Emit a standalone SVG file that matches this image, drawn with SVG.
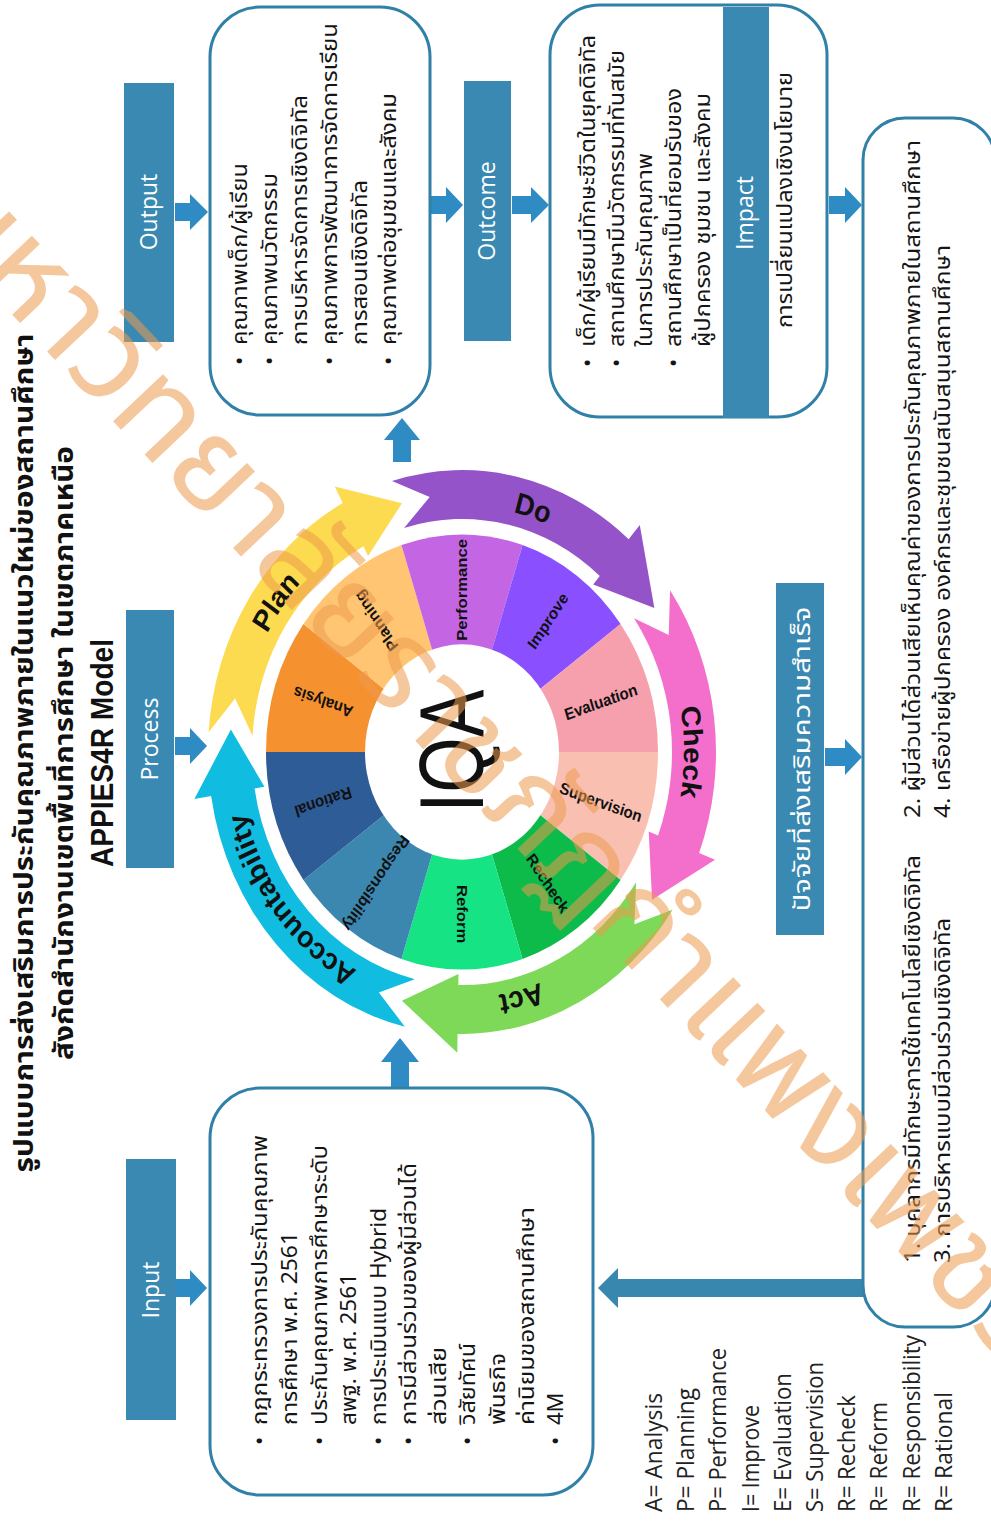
<svg xmlns="http://www.w3.org/2000/svg" width="991" height="1525" viewBox="0 0 991 1525">
<style>
.lbl{fill:#3A89B2}
.arr{fill:#2E8BC3}
.box{fill:#fff;stroke:#3080A8;stroke-width:3}
.th{font-family:"Noto Sans Thai","Noto Sans","Liberation Sans",sans-serif;font-size:22px;fill:#151515}
.tt{font-family:"Noto Sans Thai","Noto Sans","Liberation Sans",sans-serif;font-size:26px;font-weight:bold;fill:#111}
.wl{font-family:"Open Sans","Noto Sans Thai",sans-serif;font-size:23px;fill:#fff;text-anchor:middle}
.lg{font-family:"Open Sans","Liberation Sans",sans-serif;font-size:23px;fill:#222}
.seg{font-family:"Liberation Sans",Arial,sans-serif;font-weight:bold;font-size:15px;fill:#111;text-anchor:middle;dominant-baseline:central}
.big{font-family:"Liberation Sans",Arial,sans-serif;font-weight:bold;font-size:27px;fill:#111}
</style>
<defs>
<path id="pPlan" d="M -215.41 53.71 A 222 222 0 0 1 -15.49 -221.46"/>
<path id="pDo" d="M -117.64 -188.27 A 222 222 0 0 1 205.83 -83.16"/>
<path id="pCheck" d="M 142.70 -170.06 A 222 222 0 0 1 142.70 170.06"/>
<path id="pAct" d="M 201.20 93.82 A 222 222 0 0 1 -127.33 181.85"/>
<path id="pAcc" d="M -7.78 222.86 A 223 223 0 0 1 -218.13 -46.36"/>
</defs>
<rect width="991" height="1525" fill="#fff"/>

<g id="title" transform="matrix(0 -1 1 0 0 1525)">
<text class="tt" x="772" y="33" text-anchor="middle" textLength="839" lengthAdjust="spacingAndGlyphs">รูปแบบการส่งเสริมการประกันคุณภาพภายในแนวใหม่ของสถานศึกษา</text>
<text class="tt" x="772" y="73" text-anchor="middle" textLength="614" lengthAdjust="spacingAndGlyphs">สังกัดสำนักงานเขตพื้นที่การศึกษา ในเขตภาคเหนือ</text>
<text x="772" y="113" text-anchor="middle" font-family="Liberation Sans,Arial,sans-serif" font-weight="bold" font-size="31" fill="#111" textLength="228" lengthAdjust="spacingAndGlyphs">APPIES4R Model</text>
</g>

<g id="connectors">
<polygon class="arr" points="175,1279 190,1279 190,1270 207,1288 190,1306 190,1297 175,1297"/>
<polygon class="arr" points="175,737 190,737 190,728 207,746 190,764 190,755 175,755"/>
<polygon class="arr" points="175,203 190,203 190,194 208,212 190,230 190,221 175,221"/>
<polygon class="arr" points="431,196 446,196 446,187 463,205 446,223 446,214 431,214"/>
<polygon class="arr" points="512,196 531,196 531,187 549,205 531,223 531,214 512,214"/>
<polygon class="arr" points="829,196 845,196 845,187 862,205 845,223 845,214 829,214"/>
<polygon class="arr" points="825,748 845,748 845,739 862,757 845,775 845,766 825,766"/>
<polygon class="arr" points="393,462 393,440 384,440 402,418 420,440 411,440 411,462"/>
<polygon class="arr" points="391,1088 391,1062 381,1062 400,1038 419,1062 409,1062 409,1088"/>
<polygon fill="#3787AE" points="864,1279 618,1279 618,1268 598,1288 618,1308 618,1297 864,1297"/>
</g>

<g id="input-label">
<rect class="lbl" x="126" y="1159" width="50" height="261"/>
<text class="wl" transform="matrix(0 -1 1 0 0 1525)" x="235" y="159">Input</text>
</g>
<g id="process-label">
<rect class="lbl" x="126" y="610" width="48" height="258"/>
<text class="wl" transform="matrix(0 -1 1 0 0 1525)" x="786" y="158">Process</text>
</g>
<g id="output-label">
<rect class="lbl" x="124" y="83" width="50" height="259"/>
<text class="wl" transform="matrix(0 -1 1 0 0 1525)" x="1313" y="157">Output</text>
</g>
<g id="outcome-label">
<rect class="lbl" x="464" y="81" width="47" height="260"/>
<text class="wl" transform="matrix(0 -1 1 0 0 1525)" x="1314" y="495">Outcome</text>
</g>
<g id="factor-label">
<rect class="lbl" x="776" y="583" width="48" height="352"/>
<text class="wl" transform="matrix(0 -1 1 0 0 1525)" x="766" y="810" font-size="24" textLength="305" lengthAdjust="spacingAndGlyphs">ปัจจัยที่ส่งเสริมความสำเร็จ</text>
</g>

<g id="input-box">
<rect class="box" x="210" y="1088" width="383" height="407" rx="50"/>
<g class="th" transform="matrix(0 -1 1 0 0 1525)">
<text x="80" y="267">•</text><text x="100" y="267" textLength="290" lengthAdjust="spacingAndGlyphs">กฎกระทรวงการประกันคุณภาพ</text>
<text x="100" y="297" textLength="193" lengthAdjust="spacingAndGlyphs">การศึกษา พ.ศ. 2561</text>
<text x="80" y="327">•</text><text x="100" y="327" textLength="280" lengthAdjust="spacingAndGlyphs">ประกันคุณภาพการศึกษาระดับ</text>
<text x="100" y="356" textLength="152" lengthAdjust="spacingAndGlyphs">สพฐ. พ.ศ. 2561</text>
<text x="80" y="386">•</text><text x="100" y="386" textLength="217" lengthAdjust="spacingAndGlyphs">การประเมินแบบ Hybrid</text>
<text x="80" y="416">•</text><text x="100" y="416" textLength="262" lengthAdjust="spacingAndGlyphs">การมีส่วนร่วมของผู้มีส่วนได้</text>
<text x="100" y="446" textLength="78" lengthAdjust="spacingAndGlyphs">ส่วนเสีย</text>
<text x="80" y="475">•</text><text x="100" y="475" textLength="82" lengthAdjust="spacingAndGlyphs">วิสัยทัศน์</text>
<text x="100" y="505" textLength="72" lengthAdjust="spacingAndGlyphs">พันธกิจ</text>
<text x="100" y="534" textLength="218" lengthAdjust="spacingAndGlyphs">ค่านิยมของสถานศึกษา</text>
<text x="80" y="563">•</text><text x="100" y="563">4M</text>
</g>
</g>

<g id="output-box">
<rect class="box" x="210" y="7" width="220" height="408" rx="50"/>
<g class="th" transform="matrix(0 -1 1 0 0 1525)">
<text x="1160" y="247">•</text><text x="1180" y="247" textLength="182" lengthAdjust="spacingAndGlyphs">คุณภาพเด็ก/ผู้เรียน</text>
<text x="1160" y="277">•</text><text x="1180" y="277" textLength="172" lengthAdjust="spacingAndGlyphs">คุณภาพนวัตกรรม</text>
<text x="1180" y="307" textLength="250" lengthAdjust="spacingAndGlyphs">การบริหารจัดการเชิงดิจิทัล</text>
<text x="1160" y="337">•</text><text x="1180" y="337" textLength="322" lengthAdjust="spacingAndGlyphs">คุณภาพการพัฒนาการจัดการเรียน</text>
<text x="1180" y="367" textLength="165" lengthAdjust="spacingAndGlyphs">การสอนเชิงดิจิทัล</text>
<text x="1160" y="396">•</text><text x="1180" y="396" textLength="252" lengthAdjust="spacingAndGlyphs">คุณภาพต่อชุมชนและสังคม</text>
</g>
</g>

<g id="outcome-box">
<rect class="box" x="550" y="5" width="277" height="412" rx="50"/>
<rect class="lbl" x="723" y="7" width="46" height="411"/>
<text class="wl" transform="matrix(0 -1 1 0 0 1525)" x="1312" y="753">Impact</text>
<g class="th" transform="matrix(0 -1 1 0 0 1525)">
<text x="1158" y="595">•</text><text x="1178" y="595" textLength="312" lengthAdjust="spacingAndGlyphs">เด็ก/ผู้เรียนมีทักษะชีวิตในยุคดิจิทัล</text>
<text x="1158" y="624">•</text><text x="1178" y="624" textLength="297" lengthAdjust="spacingAndGlyphs">สถานศึกษามีนวัตกรรมที่ทันสมัย</text>
<text x="1178" y="652" textLength="194" lengthAdjust="spacingAndGlyphs">ในการประกันคุณภาพ</text>
<text x="1158" y="681">•</text><text x="1178" y="681" textLength="259" lengthAdjust="spacingAndGlyphs">สถานศึกษาเป็นที่ยอมรับของ</text>
<text x="1178" y="710" textLength="254" lengthAdjust="spacingAndGlyphs">ผู้ปกครอง ชุมชน และสังคม</text>
<text x="1197" y="792" textLength="256" lengthAdjust="spacingAndGlyphs">การเปลี่ยนแปลงเชิงนโยบาย</text>
</g>
</g>

<g id="factor-box">
<rect class="box" x="863" y="118" width="132" height="1209" rx="42"/>
<g class="th" font-size="21" transform="matrix(0 -1 1 0 0 1525)">
<text x="262" y="920" textLength="408" lengthAdjust="spacingAndGlyphs">1. บุคลากรมีทักษะการใช้เทคโนโลยีเชิงดิจิทัล</text>
<text x="262" y="950" textLength="345" lengthAdjust="spacingAndGlyphs">3. การบริหารแบบมีส่วนร่วมเชิงดิจิทัล</text>
<text x="707" y="920" textLength="678" lengthAdjust="spacingAndGlyphs">2. ผู้มีส่วนได้ส่วนเสียเห็นคุณค่าของการประกันคุณภาพภายในสถานศึกษา</text>
<text x="707" y="950" textLength="573" lengthAdjust="spacingAndGlyphs">4. เครือข่ายผู้ปกครอง องค์กรและชุมชนสนับสนุนสถานศึกษา</text>
</g>
</g>

<g id="legend" class="lg" transform="matrix(0 -1 1 0 0 1525)">
<text x="13" y="662" textLength="119" lengthAdjust="spacingAndGlyphs">A= Analysis</text>
<text x="13" y="694" textLength="124" lengthAdjust="spacingAndGlyphs">P= Planning</text>
<text x="13" y="726" textLength="164" lengthAdjust="spacingAndGlyphs">P= Performance</text>
<text x="13" y="759" textLength="107" lengthAdjust="spacingAndGlyphs">I= Improve</text>
<text x="13" y="791" textLength="139" lengthAdjust="spacingAndGlyphs">E= Evaluation</text>
<text x="13" y="823" textLength="150" lengthAdjust="spacingAndGlyphs">S= Supervision</text>
<text x="13" y="855" textLength="117" lengthAdjust="spacingAndGlyphs">R= Recheck</text>
<text x="13" y="887" textLength="110" lengthAdjust="spacingAndGlyphs">R= Reform</text>
<text x="13" y="920" textLength="177" lengthAdjust="spacingAndGlyphs">R= Responsibility</text>
<text x="13" y="952" textLength="120" lengthAdjust="spacingAndGlyphs">R= Rational</text>
</g>

<g id="cycle" transform="translate(462,752) scale(1,1.11)">
<g id="ring">
<path fill="#F9C0B1" d="M0 0 L196 0 A196 196 0 0 1 158.57 115.21 Z"/>
<path fill="#0DBB4B" d="M0 0 L158.57 115.21 A196 196 0 0 1 60.57 186.41 Z"/>
<path fill="#15E384" d="M0 0 L60.57 186.41 A196 196 0 0 1 -60.57 186.41 Z"/>
<path fill="#3C87AF" d="M0 0 L-60.57 186.41 A196 196 0 0 1 -158.57 115.21 Z"/>
<path fill="#2E5C97" d="M0 0 L-158.57 115.21 A196 196 0 0 1 -196 0 Z"/>
<path fill="#F5912F" d="M0 0 L-196 0 A196 196 0 0 1 -158.57 -115.21 Z"/>
<path fill="#FFC572" d="M0 0 L-158.57 -115.21 A196 196 0 0 1 -60.57 -186.41 Z"/>
<path fill="#C466E4" d="M0 0 L-60.57 -186.41 A196 196 0 0 1 60.57 -186.41 Z"/>
<path fill="#8A50FF" d="M0 0 L60.57 -186.41 A196 196 0 0 1 158.57 -115.21 Z"/>
<path fill="#F6A0AE" d="M0 0 L158.57 -115.21 A196 196 0 0 1 196 0 Z"/>
<circle r="97" fill="#fff"/>
</g>
<g id="ring-labels">
<text class="seg" transform="translate(138.85,45.12) rotate(18)">Supervision</text>
<text class="seg" transform="translate(85.82,118.12) rotate(54)">Recheck</text>
<text class="seg" transform="translate(0,146) rotate(90)">Reform</text>
<text class="seg" font-size="12.5" transform="translate(-85.82,118.12) rotate(126)">Responsibility</text>
<text class="seg" transform="translate(-138.85,45.12) rotate(162)">Rational</text>
<text class="seg" transform="translate(-138.85,-45.12) rotate(198)">Analysis</text>
<text class="seg" transform="translate(-85.82,-118.12) rotate(234)">Planning</text>
<text class="seg" font-size="14" transform="translate(0,-146) rotate(270)">Performance</text>
<text class="seg" transform="translate(85.82,-118.12) rotate(306)">Improve</text>
<text class="seg" transform="translate(138.85,-45.12) rotate(342)">Evaluation</text>
</g>
<g id="plan">
<path fill="#FDDB50" d="M -253.38 -17.72 A 254 254 0 0 1 -119.25 -224.27 L -127.23 -239.28 L -60.05 -224.10 L -93.89 -176.59 L -98.59 -185.42 A 210 210 0 0 0 -209.49 -14.65 L -226.93 -48.24 Z"/>
<text class="big"><textPath href="#pPlan" startOffset="50%" text-anchor="middle">Plan</textPath></text>
</g>
<g id="do">
<path fill="#9553C9" d="M -70.01 -244.16 A 254 254 0 0 1 166.64 -191.70 L 177.79 -204.53 L 192.34 -129.73 L 131.21 -150.94 L 137.77 -158.49 A 210 210 0 0 0 -57.88 -201.86 L -32.29 -229.74 Z"/>
<text class="big"><textPath href="#pDo" startOffset="50%" text-anchor="middle">Do</textPath></text>
</g>
<g id="check">
<path fill="#F46FCB" d="M 208.06 -145.69 A 254 254 0 0 1 237.13 91.03 L 253.00 97.12 L 190.04 133.07 L 186.72 71.67 L 196.05 75.26 A 210 210 0 0 0 172.02 -120.45 L 206.71 -105.33 Z"/>
<text class="big"><textPath href="#pCheck" startOffset="50%" text-anchor="middle">Check</textPath></text>
</g>
<g id="act">
<path fill="#7DD957" d="M 210.58 142.03 A 254 254 0 0 1 -4.43 253.96 L -4.73 270.96 L -60.05 224.10 L -3.49 199.97 L -3.66 209.97 A 210 210 0 0 0 174.10 117.43 L 172.41 155.24 Z"/>
<text class="big"><textPath href="#pAct" startOffset="50%" text-anchor="middle">Act</textPath></text>
</g>
<g id="accountability">
<path fill="#10BDE0" d="M -57.14 247.49 A 254 254 0 0 1 -250.87 39.73 L -267.66 42.39 L -231.12 -20.22 L -197.54 31.29 L -207.41 32.85 A 210 210 0 0 0 -47.24 204.62 L -83.14 216.59 Z"/>
<text class="big" font-size="24"><textPath href="#pAcc" startOffset="50%" text-anchor="middle">Accountability</textPath></text>
</g>
</g>
<g id="iqa" transform="matrix(0 -1 1 0 0 1525)">
<text x="774" y="483" text-anchor="middle" font-family="Liberation Sans,Arial,sans-serif" font-size="90" fill="#111" textLength="123" lengthAdjust="spacingAndGlyphs">IQA</text>
</g>

<g id="watermark" opacity="0.55">
<text transform="translate(-80,217) rotate(46.6)" font-family="Noto Sans Thai,Noto Sans,sans-serif" font-size="125" fill="#EE9A4E" textLength="1587" lengthAdjust="spacingAndGlyphs">มหาวิทยาลัยราชภัฏกำแพงเพชร</text>
</g>
</svg>
